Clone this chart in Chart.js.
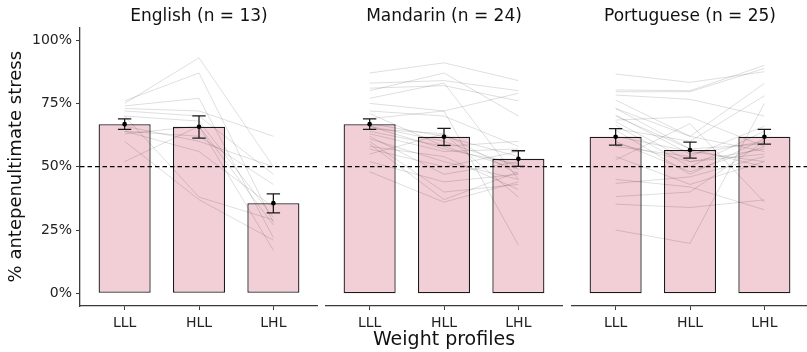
<!DOCTYPE html>
<html>
<head>
<meta charset="utf-8">
<script src="https://cdn.jsdelivr.net/npm/chart.js@4/dist/chart.umd.min.js"></script>
<style>
  html, body { margin: 0; padding: 0; background: #fff; }
  body { width: 807px; height: 352px; position: relative; overflow: hidden; }
  canvas { position: absolute; top: 0; }
</style>
</head>
<body>
<canvas id="panel0" width="318" height="352" style="left:0px"></canvas>
<canvas id="panel1" width="238" height="352" style="left:325px"></canvas>
<canvas id="panel2" width="238" height="352" style="left:571px"></canvas>
<script>
// Weight profiles on the x axis, one facet per language group
const profiles = ['LLL', 'HLL', 'LHL'];
const groups = ['English', 'Mandarin', 'Portuguese'];
const groupN = [13, 24, 25];
const yTicks = [0, 25, 50, 75, 100];

// Group means (% antepenultimate stress) and standard-error limits
const meanEnglish    = [66.8, 65.8, 35.6];
const lowEnglish     = [64.7, 61.3, 31.8];
const highEnglish    = [68.9, 70.1, 39.3];

const meanMandarin   = [66.8, 61.8, 53.1];
const lowMandarin    = [64.7, 58.4, 50.1];
const highMandarin   = [68.9, 65.1, 56.3];

const meanPortuguese = [61.8, 56.6, 61.8];
const lowPortuguese  = [58.5, 53.4, 58.9];
const highPortuguese = [65.0, 59.7, 64.7];

// Individual participants: LLL, HLL, LHL
const participantsEnglish = [
  [75, 93, 50], [76, 87, 28], [74, 77, 22], [73, 72, 62], [72, 70, 47],
  [70, 68, 30], [64, 62, 43], [63, 66, 27], [64, 56, 34], [60, 37, 21],
  [52, 66, 17], [70, 38, 29], [66, 60, 50]
];
const participantsMandarin = [
  [87, 91, 84], [83, 84, 80], [80, 87, 70], [81, 82, 76], [77, 83, 45],
  [75, 72, 79], [72, 70, 58], [71, 58, 60], [69, 72, 19], [67, 62, 54],
  [66, 60, 50], [65, 63, 47], [64, 58, 49], [63, 56, 57], [62, 47, 52],
  [61, 52, 45], [60, 40, 43], [59, 37, 48], [58, 54, 41], [57, 50, 56],
  [55, 63, 38], [52, 44, 47], [48, 36, 44], [66, 57, 51]
];
const participantsPortuguese = [
  [86.6, 83.3, 87.5], [80.3, 80, 90], [79.6, 79.6, 88.8], [78.3, 76.6, 70], [76.3, 62, 82.9],
  [73, 57, 59], [70.4, 55, 60], [68.4, 69.7, 58], [67.8, 52, 55], [66.4, 50, 64],
  [64.5, 47, 61], [62, 56, 52], [59.2, 52, 57], [54, 43, 52], [52.7, 67, 36],
  [43.4, 46, 54], [45, 42, 33], [38.2, 40, 60], [35.2, 33.9, 36.9], [25, 19.7, 75],
  [73, 62, 56], [65, 60, 78], [60, 48, 58], [58, 54, 66], [70, 57, 50]
];

const groupMeans = [meanEnglish, meanMandarin, meanPortuguese];
const groupLows = [lowEnglish, lowMandarin, lowPortuguese];
const groupHighs = [highEnglish, highMandarin, highPortuguese];
const groupParticipants = [participantsEnglish, participantsMandarin, participantsPortuguese];

Chart.defaults.font.family = '"DejaVu Sans", sans-serif';
Chart.defaults.color = '#222';

const ink = '#1a1a1a';
const axisColor = '#3a3a3a';
const capHalf = 0.09;

function buildPanel(idx) {
  const means = groupMeans[idx];
  const lows = groupLows[idx];
  const highs = groupHighs[idx];

  const datasets = [];

  // Mean bars, outlined on all four sides
  datasets.push({
    type: 'bar',
    data: profiles.map((p, i) => ({ x: i + 1, y: means[i] })),
    backgroundColor: '#f2ced6',
    borderColor: ink,
    borderWidth: 1.3,
    borderSkipped: false,
    barPercentage: 0.7,
    categoryPercentage: 1,
    order: 5
  });

  // One faint line per participant
  groupParticipants[idx].forEach(row => {
    datasets.push({
      type: 'line',
      data: row.map((v, i) => ({ x: i + 1, y: v })),
      borderColor: 'rgba(0,0,0,0.13)',
      borderWidth: 1,
      pointRadius: 0,
      tension: 0,
      order: 4
    });
  });

  // Chance level
  datasets.push({
    type: 'line',
    data: [{ x: 0.4, y: 50 }, { x: 3.6, y: 50 }],
    borderColor: '#000',
    borderWidth: 1.2,
    borderDash: [4.5, 3],
    pointRadius: 0,
    order: 3
  });

  // Error bars: top cap, whisker, bottom cap
  profiles.forEach((p, i) => {
    const x = i + 1;
    datasets.push({
      type: 'line',
      data: [
        { x: x - capHalf, y: highs[i] }, { x: x + capHalf, y: highs[i] }, { x: x, y: null },
        { x: x, y: highs[i] }, { x: x, y: lows[i] }, { x: x + capHalf, y: null },
        { x: x - capHalf, y: lows[i] }, { x: x + capHalf, y: lows[i] }
      ],
      borderColor: ink,
      borderWidth: 1.3,
      pointRadius: 0,
      spanGaps: false,
      order: 2
    });
  });

  // Mean points
  datasets.push({
    type: 'line',
    data: profiles.map((p, i) => ({ x: i + 1, y: means[i] })),
    showLine: false,
    pointRadius: 2.3,
    pointBackgroundColor: '#000',
    pointBorderWidth: 0,
    order: 1
  });

  const yAxis = {
    type: 'linear',
    min: -5,
    max: 105,
    display: idx === 0,
    afterBuildTicks: s => { s.ticks = yTicks.map(v => ({ value: v })); },
    ticks: {
      callback: v => v + '%',
      font: { size: 14 },
      color: '#222',
      padding: 4
    },
    grid: { drawOnChartArea: false, drawTicks: true, tickLength: 4, color: axisColor, lineWidth: 1 },
    border: { display: true, color: axisColor, width: 1.3 },
    title: {
      display: true,
      text: '% antepenultimate stress',
      font: { size: 18 },
      color: '#111',
      padding: { top: 6, bottom: 0 }
    }
  };
  if (idx === 0) yAxis.afterFit = s => { s.width = 80; };

  return {
    type: 'bar',
    data: { datasets },
    options: {
      responsive: false,
      animation: false,
      events: [],
      layout: { padding: 0, autoPadding: false },
      plugins: {
        legend: { display: false },
        tooltip: { enabled: false },
        title: {
          display: true,
          fullSize: false,
          text: groups[idx] + ' (n = ' + groupN[idx] + ')',
          font: { size: 17, weight: 'normal' },
          color: '#111',
          padding: { top: 6, bottom: 1 }
        }
      },
      scales: {
        x: {
          type: 'linear',
          min: 0.4,
          max: 3.6,
          offset: false,
          afterBuildTicks: s => { s.ticks = profiles.map((p, i) => ({ value: i + 1 })); },
          afterFit: s => { s.height = 46; },
          ticks: {
            callback: v => profiles[Math.round(v) - 1],
            font: { size: 14 },
            color: '#222',
            padding: 5,
            autoSkip: false,
            maxRotation: 0
          },
          grid: { offset: false, drawOnChartArea: false, drawTicks: true, tickLength: 4, color: axisColor, lineWidth: 1 },
          border: { display: true, color: axisColor, width: 1.3 },
          title: {
            display: idx === 1,
            text: 'Weight profiles',
            font: { size: 19 },
            color: '#111',
            padding: { top: 0, bottom: 1 }
          }
        },
        y: yAxis
      }
    }
  };
}

groups.forEach((g, idx) => {
  new Chart(document.getElementById('panel' + idx), buildPanel(idx));
});
</script>
</body>
</html>
